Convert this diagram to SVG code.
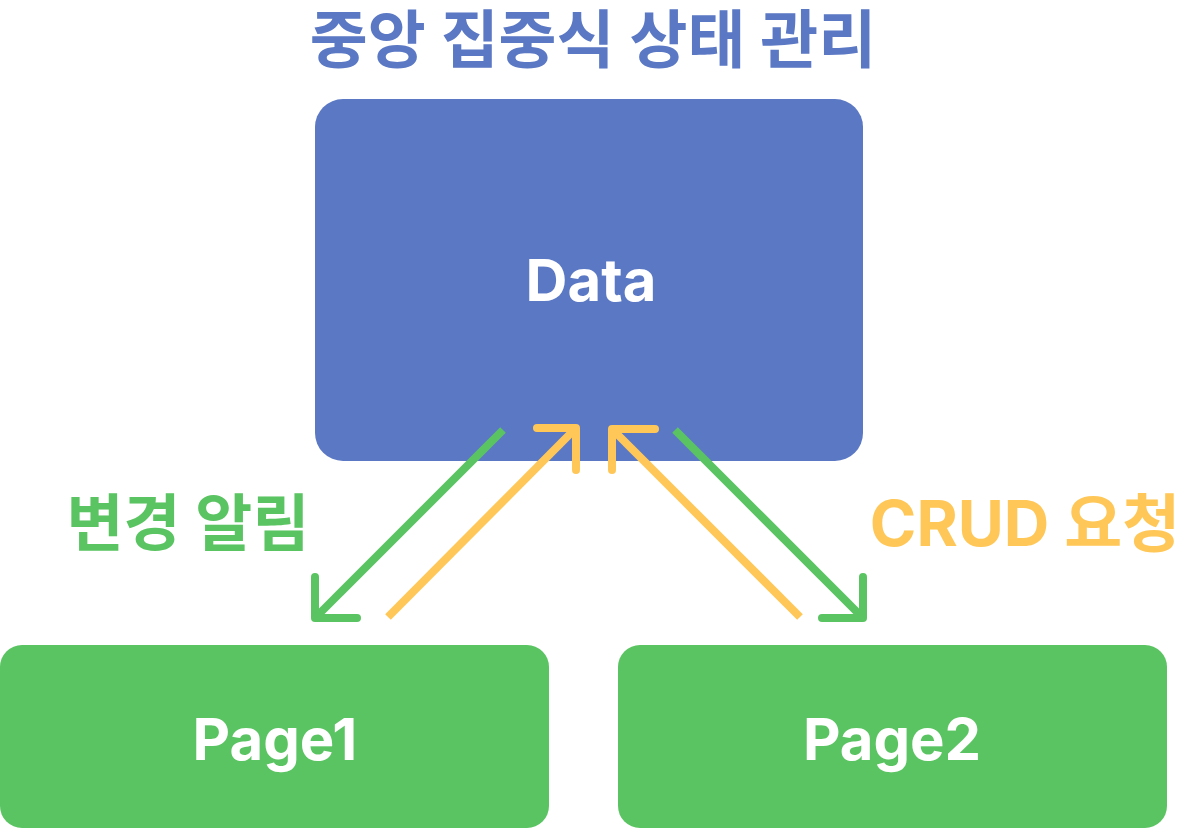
<svg xmlns="http://www.w3.org/2000/svg" width="1182" height="828" viewBox="0 0 1182 828">
<style>
.t{font-family:Inter,"Noto Sans CJK KR",sans-serif;font-weight:700;text-anchor:middle}
.w{fill:#ffffff;font-size:58px}
.g{stroke:#5BC462;stroke-width:8;fill:none}
.y{stroke:#FFC757;stroke-width:8;fill:none}
.h{stroke-linecap:round;stroke-linejoin:round}
</style>
<rect width="1182" height="828" fill="#ffffff"/>
<text class="t" x="593" y="62" font-size="63" fill="#5B78C4">중앙 집중식 상태 관리</text>
<g id="data">
<rect x="315" y="99" width="548" height="362" rx="28" fill="#5B78C4"/>
<text class="t w" x="591" y="301">Data</text>
</g>
<g id="page1">
<rect x="0" y="645" width="549" height="183" rx="22" fill="#5BC462"/>
<text class="t w" x="275" y="760">Page1</text>
</g>
<g id="page2">
<rect x="618" y="645" width="549" height="183" rx="22" fill="#5BC462"/>
<text class="t w" x="892" y="760">Page2</text>
</g>
<g id="connectors">
<line class="g" x1="503" y1="430" x2="319" y2="614"/>
<polyline class="g h" points="315,577 315,618 357,618"/>
<line class="y" x1="388" y1="617" x2="572" y2="432"/>
<polyline class="y h" points="537,428 576,428 576,470"/>
<line class="y" x1="800" y1="617" x2="615" y2="432"/>
<polyline class="y h" points="655,429 612,429 612,470"/>
<line class="g" x1="675" y1="430" x2="859" y2="614"/>
<polyline class="g h" points="863,577 863,618 822,618"/>
</g>
<text class="t" x="188" y="546" font-size="62" fill="#5BC462">변경 알림</text>
<text class="t" x="1025" y="546" font-size="63" fill="#FFC757">CRUD 요청</text>
</svg>
